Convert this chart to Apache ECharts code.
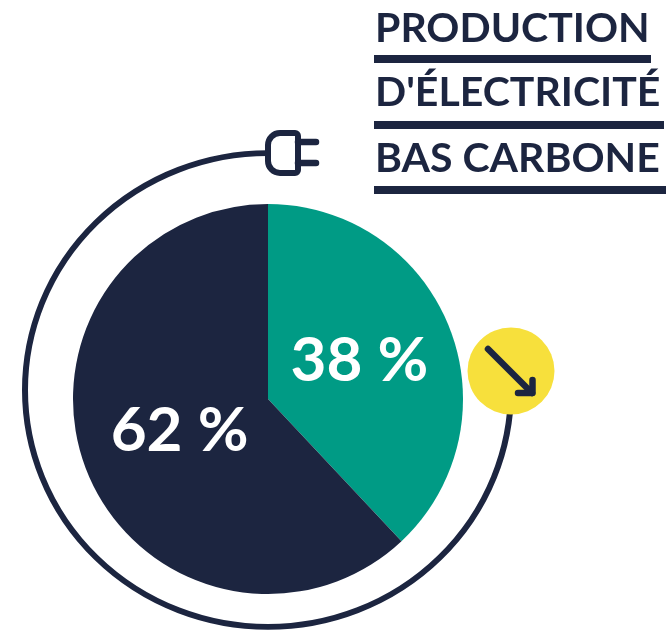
<!DOCTYPE html>
<html><head><meta charset="utf-8">
<style>html,body{margin:0;padding:0;background:#fff}#c{width:666px;height:630px}</style>
<script src="https://cdn.jsdelivr.net/npm/echarts@6/dist/echarts.min.js"></script>
</head><body><div id="c"></div>
<script>
const categories = ['Bas carbone', 'Autre'];
const shares = [38, 62];
const titleLines = ['PRODUCTION', "D'ÉLECTRICITÉ", 'BAS CARBONE'];
const NAVY = '#1c2540', TEAL = '#009b85', YELLOW = '#f7e03c';
const titleY = [28.5, 93, 158.5];
const ruleY = [59, 125, 190];
const ruleEnd = [651, 664, 666];
const chart = echarts.init(document.getElementById('c'), null, {renderer: 'canvas'});
const cx = 268, cy = 399, R = 195;
const graphic = [];
titleLines.forEach((t, i) => {
  graphic.push({type: 'text', x: 375, y: titleY[i], style: {text: t, fill: NAVY, font: '700 41px Lato, sans-serif', verticalAlign: 'middle'}});
  graphic.push({type: 'rect', shape: {x: 374, y: ruleY[i] - 4, width: ruleEnd[i] - 374, height: 8}, style: {fill: NAVY}});
});
const line = (x1, y1, x2, y2, w) => ({type: 'line', shape: {x1, y1, x2, y2}, style: {stroke: NAVY, lineWidth: w, lineCap: 'round'}});
// ring
graphic.push({type: 'arc', x: 268, y: 390, scaleY: 0.975, shape: {cx: 0, cy: 0, r: 243, startAngle: 0, endAngle: -Math.PI * 0.5, clockwise: true}, style: {stroke: NAVY, lineWidth: 6, fill: null}});
// plug
graphic.push({type: 'rect', shape: {x: 268, y: 133, width: 30, height: 40, r: [12, 3, 3, 12]}, style: {stroke: NAVY, lineWidth: 6, fill: '#fff'}});
graphic.push(line(298, 142, 316, 142, 6.5), line(298, 163, 316, 163, 6.5));
// badge
graphic.push({type: 'circle', shape: {cx: 511, cy: 371, r: 43.5}, style: {fill: YELLOW}});
graphic.push(line(488, 349, 532, 393, 6.5));
graphic.push({type: 'polyline', shape: {points: [[532.5, 380], [532.5, 393], [518, 393]]}, style: {stroke: NAVY, lineWidth: 6.5, fill: null, lineCap: 'round', lineJoin: 'round'}});
chart.setOption({
  animation: false,
  graphic,
  series: [{
    type: 'pie', center: [cx, cy], radius: [0, R], startAngle: 90, clockwise: true,
    silent: true,
    label: {position: 'inside', formatter: p => p.value + ' %', color: '#fff', fontFamily: 'Lato, sans-serif', fontWeight: 700, fontSize: 62},
    labelLine: {show: false},
    data: categories.map((n, i) => ({name: n, value: shares[i], itemStyle: {color: i ? NAVY : TEAL},
      label: {offset: i ? [5, -5] : [-2, -1]}}))
  }]
});
</script></body></html>
